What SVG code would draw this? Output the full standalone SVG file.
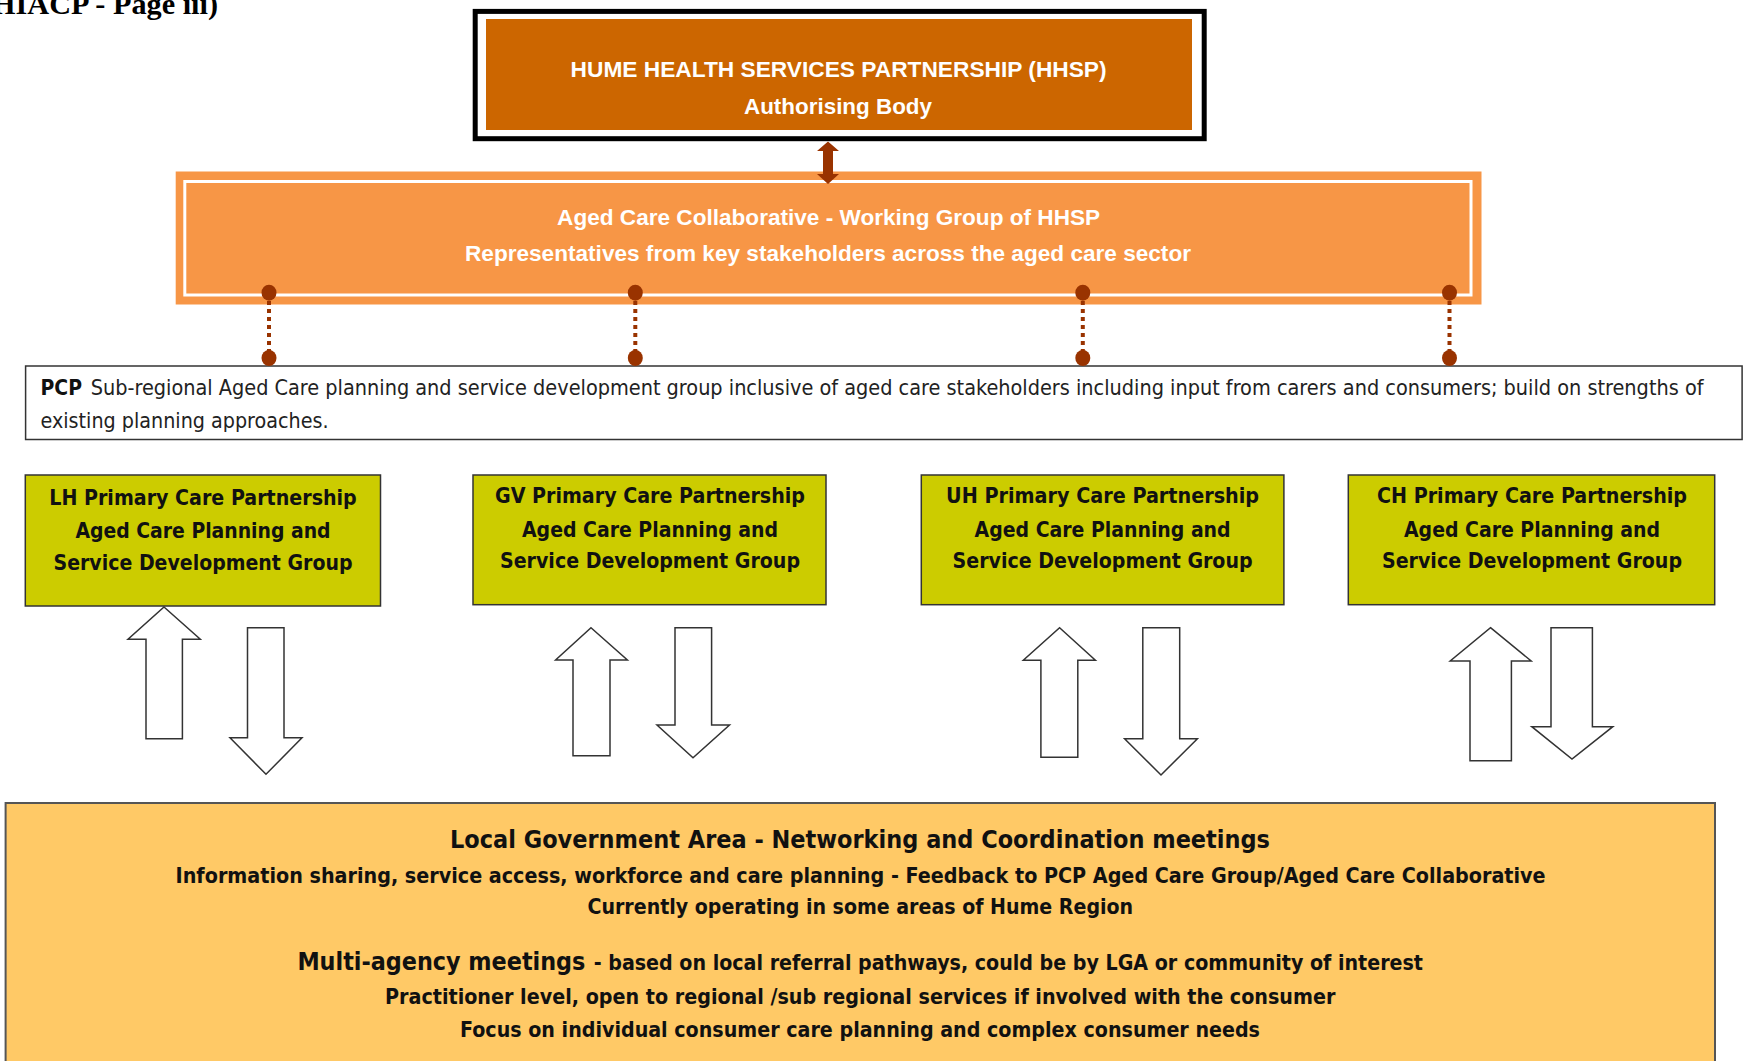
<svg xmlns="http://www.w3.org/2000/svg" width="1744" height="1061" viewBox="0 0 1744 1061">
<style>
.narrow{font-family:"Liberation Sans Narrow","Liberation Sans",Arial,sans-serif;font-weight:bold;fill:#ffffff;font-size:22px}
.tah{font-family:"DejaVu Sans Condensed","DejaVu Sans",Verdana,sans-serif}
.green{fill:#CCCC00;stroke:#333333;stroke-width:1.5}
.gtxt{font-size:21px;font-weight:bold;fill:#111111}
.btxt{font-size:22px;font-weight:bold;fill:#111111}
.blk{fill:#ffffff;stroke:#333333;stroke-width:1.5;stroke-linejoin:miter}
.dot{fill:#993300}
.dash{stroke:#993300;stroke-width:4;stroke-dasharray:4 4}
</style>
<rect x="0" y="0" width="1744" height="1061" fill="#ffffff"/>
<text x="-8" y="14" font-family="Liberation Serif,'Times New Roman',serif" font-weight="bold" font-size="30" fill="#000000" textLength="226" lengthAdjust="spacingAndGlyphs">HIACP - Page iii)</text>

<g id="hhsp">
<rect x="475.2" y="11.4" width="729" height="127.3" fill="#ffffff" stroke="#000000" stroke-width="5"/>
<rect x="486" y="19" width="706" height="111" fill="#CC6600"/>
<text class="narrow" x="838.6" y="77.3" text-anchor="middle" textLength="536" lengthAdjust="spacingAndGlyphs">HUME HEALTH SERVICES PARTNERSHIP (HHSP)</text>
<text class="narrow" x="838" y="114" text-anchor="middle" textLength="188" lengthAdjust="spacingAndGlyphs">Authorising Body</text>
</g>

<g id="collaborative">
<rect x="175.7" y="171.5" width="1305.8" height="133" fill="#F79646"/>
<rect x="184.8" y="181.5" width="1286.2" height="113.5" fill="none" stroke="#ffffff" stroke-width="3"/>
<text class="narrow" x="828.6" y="225" text-anchor="middle" textLength="543" lengthAdjust="spacingAndGlyphs">Aged Care Collaborative - Working Group of HHSP</text>
<text class="narrow" x="828" y="260.7" text-anchor="middle" textLength="726" lengthAdjust="spacingAndGlyphs">Representatives from key stakeholders across the aged care sector</text>
</g>

<g id="pcp">
<rect x="25.6" y="366" width="1716.5" height="73.5" fill="#ffffff" stroke="#333333" stroke-width="1.5"/>
<text class="tah" x="40.5" y="395" font-size="21" font-weight="bold" fill="#111111" textLength="41.5" lengthAdjust="spacingAndGlyphs">PCP</text>
<text class="tah" x="90.7" y="395" font-size="21" fill="#222222" textLength="1612.8" lengthAdjust="spacingAndGlyphs">Sub-regional Aged Care planning and service development group inclusive of aged care stakeholders including input from carers and consumers; build on strengths of</text>
<text class="tah" x="40.5" y="427.7" font-size="21" fill="#222222" textLength="288" lengthAdjust="spacingAndGlyphs">existing planning approaches.</text>
</g>

<g id="lh">
<rect class="green" x="25.3" y="475" width="355.2" height="131"/>
<text class="tah gtxt" x="203" y="505" text-anchor="middle" textLength="307.5" lengthAdjust="spacingAndGlyphs">LH Primary Care Partnership</text>
<text class="tah gtxt" x="203" y="538.3" text-anchor="middle" textLength="255" lengthAdjust="spacingAndGlyphs">Aged Care Planning and</text>
<text class="tah gtxt" x="203" y="570" text-anchor="middle" textLength="299" lengthAdjust="spacingAndGlyphs">Service Development Group</text>
</g>
<g id="gv">
<rect class="green" x="473" y="475" width="353" height="129.7"/>
<text class="tah gtxt" x="650" y="503.3" text-anchor="middle" textLength="310" lengthAdjust="spacingAndGlyphs">GV Primary Care Partnership</text>
<text class="tah gtxt" x="650" y="536.7" text-anchor="middle" textLength="256" lengthAdjust="spacingAndGlyphs">Aged Care Planning and</text>
<text class="tah gtxt" x="650" y="568.3" text-anchor="middle" textLength="300" lengthAdjust="spacingAndGlyphs">Service Development Group</text>
</g>
<g id="uh">
<rect class="green" x="921.3" y="475" width="362.6" height="129.7"/>
<text class="tah gtxt" x="1102.6" y="503.3" text-anchor="middle" textLength="313" lengthAdjust="spacingAndGlyphs">UH Primary Care Partnership</text>
<text class="tah gtxt" x="1102.6" y="536.7" text-anchor="middle" textLength="256" lengthAdjust="spacingAndGlyphs">Aged Care Planning and</text>
<text class="tah gtxt" x="1102.6" y="568.3" text-anchor="middle" textLength="300" lengthAdjust="spacingAndGlyphs">Service Development Group</text>
</g>
<g id="ch">
<rect class="green" x="1348.3" y="475" width="366.4" height="129.7"/>
<text class="tah gtxt" x="1532" y="503.3" text-anchor="middle" textLength="310" lengthAdjust="spacingAndGlyphs">CH Primary Care Partnership</text>
<text class="tah gtxt" x="1532" y="536.7" text-anchor="middle" textLength="256" lengthAdjust="spacingAndGlyphs">Aged Care Planning and</text>
<text class="tah gtxt" x="1532" y="568.3" text-anchor="middle" textLength="300" lengthAdjust="spacingAndGlyphs">Service Development Group</text>
</g>

<g id="lga">
<rect x="5.6" y="803" width="1709.4" height="300" fill="#FFC966" stroke="#555555" stroke-width="2"/>
<text class="tah" x="860" y="847.7" text-anchor="middle" font-size="24" font-weight="bold" fill="#111111" textLength="820" lengthAdjust="spacingAndGlyphs">Local Government Area - Networking and Coordination meetings</text>
<text class="tah btxt" x="860.6" y="882.7" text-anchor="middle" textLength="1370" lengthAdjust="spacingAndGlyphs">Information sharing, service access, workforce and care planning - Feedback to PCP Aged Care Group/Aged Care Collaborative</text>
<text class="tah btxt" x="860.3" y="914.3" text-anchor="middle" textLength="545.6" lengthAdjust="spacingAndGlyphs">Currently operating in some areas of Hume Region</text>
<text class="tah" x="297.4" y="970" font-size="24" font-weight="bold" fill="#111111" textLength="288" lengthAdjust="spacingAndGlyphs">Multi-agency meetings</text>
<text class="tah btxt" x="593.7" y="970" textLength="829.3" lengthAdjust="spacingAndGlyphs">- based on local referral pathways, could be by LGA or community of interest</text>
<text class="tah btxt" x="860.2" y="1004.3" text-anchor="middle" textLength="950.4" lengthAdjust="spacingAndGlyphs">Practitioner level, open to regional /sub regional services if involved with the consumer</text>
<text class="tah btxt" x="860" y="1036.7" text-anchor="middle" textLength="800" lengthAdjust="spacingAndGlyphs">Focus on individual consumer care planning and complex consumer needs</text>
</g>

<g id="connectors">
<polygon points="828,141.5 839,151 833,151 833,174 839,174 828,184 817,174 823,174 823,151 817,151" fill="#993300"/>

<line class="dash" x1="269" y1="301" x2="269" y2="352"/>
<ellipse class="dot" cx="269" cy="292.7" rx="7.5" ry="8"/>
<ellipse class="dot" cx="269" cy="358" rx="7.5" ry="8"/>
<line class="dash" x1="635.3" y1="301" x2="635.3" y2="352"/>
<ellipse class="dot" cx="635.3" cy="292.7" rx="7.5" ry="8"/>
<ellipse class="dot" cx="635.3" cy="358" rx="7.5" ry="8"/>
<line class="dash" x1="1082.8" y1="301" x2="1082.8" y2="352"/>
<ellipse class="dot" cx="1082.8" cy="292.7" rx="7.5" ry="8"/>
<ellipse class="dot" cx="1082.8" cy="358" rx="7.5" ry="8"/>
<line class="dash" x1="1449.5" y1="301" x2="1449.5" y2="352"/>
<ellipse class="dot" cx="1449.5" cy="292.7" rx="7.5" ry="8"/>
<ellipse class="dot" cx="1449.5" cy="358" rx="7.5" ry="8"/>

<polygon class="blk" points="164,607 200.3,639.3 182.4,639.3 182.4,738.7 146,738.7 146,639.3 128,639.3"/>
<polygon class="blk" points="247.5,627.7 284,627.7 284,737.7 302,737.7 266,774.3 230,737.7 247.5,737.7"/>
<polygon class="blk" points="591,627.7 627.4,660 610,660 610,755.7 573,755.7 573,660 555.6,660"/>
<polygon class="blk" points="675,627.7 711.6,627.7 711.6,725 729.5,725 693,757.7 657,725 675,725"/>
<polygon class="blk" points="1059.6,627.7 1095.4,660.3 1077.8,660.3 1077.8,757.3 1040.9,757.3 1040.9,660.3 1023.3,660.3"/>
<polygon class="blk" points="1142.8,627.7 1179.7,627.7 1179.7,738.7 1197.4,738.7 1161,775 1124.6,738.7 1142.8,738.7"/>
<polygon class="blk" points="1490.5,627.7 1531.2,661 1511.4,661 1511.4,760.7 1470,760.7 1470,661 1450.2,661"/>
<polygon class="blk" points="1551,627.7 1592.4,627.7 1592.4,726.7 1612.8,726.7 1572,759 1531.8,726.7 1551,726.7"/>
</g>
</svg>
